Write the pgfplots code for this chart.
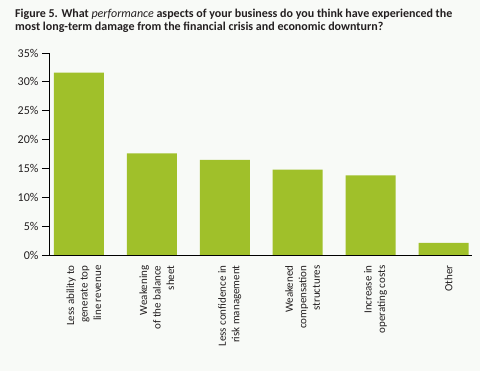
\documentclass[border=0pt]{standalone}
\usepackage{fontspec}
\setmainfont{Carlito}
\usepackage{pgfplots}
\pgfplotsset{compat=1.18}
\definecolor{bg}{RGB}{248,250,247}
\definecolor{barc}{RGB}{160,192,42}
\definecolor{txt}{RGB}{35,31,32}
\begin{document}
\begin{tikzpicture}[x=1pt,y=1pt]
\fill[bg] (0,0) rectangle (480,371);
\useasboundingbox (0,0) rectangle (480,371);
\node[anchor=base west, font=\fontsize{12}{14}\selectfont\bfseries, text=txt, inner sep=0] at (15,353.7) {Figure 5. What \textit{\mdseries performance} aspects of your business do you think have experienced the};
\node[anchor=base west, font=\fontsize{12}{14}\selectfont\bfseries, text=txt, inner sep=0] at (15,340) {most long-term damage from the financial crisis and economic downturn?};
\begin{axis}[
  at={(49pt,116pt)}, anchor=south west,
  scale only axis, width=423pt, height=202pt,
  xmin=-0.41, xmax=5.39, ymin=0, ymax=35,
  axis x line=bottom, axis y line=left,
  axis line style={-, black, line width=0.8pt},
  ytick={0,5,...,35},
  yticklabels={0\%,5\%,10\%,15\%,20\%,25\%,30\%,35\%},
  tick align=outside, major tick length=7pt,
  ytick style={black, line width=0.8pt},
  xtick={0,...,5},
  xtick style={draw=none},
  xticklabels={{Less ability to\\generate top\\line revenue},{Weakening\\of the balance\\sheet},{Less confidence in\\risk management},{Weakened\\compensation\\structures},{Increase in\\operating costs},{Other}},
  xticklabel style={rotate=90, anchor=east, align=right, font=\fontsize{11}{13.5}\selectfont, text=txt, yshift=-5pt},
  yticklabel style={font=\fontsize{12}{14}\selectfont, text=txt},
  ybar, bar width=50pt,
]
\addplot[fill=barc, draw=none] coordinates {(0,31.6) (1,17.6) (2,16.5) (3,14.8) (4,13.8) (5,2.1)};
\end{axis}
\end{tikzpicture}
\end{document}
